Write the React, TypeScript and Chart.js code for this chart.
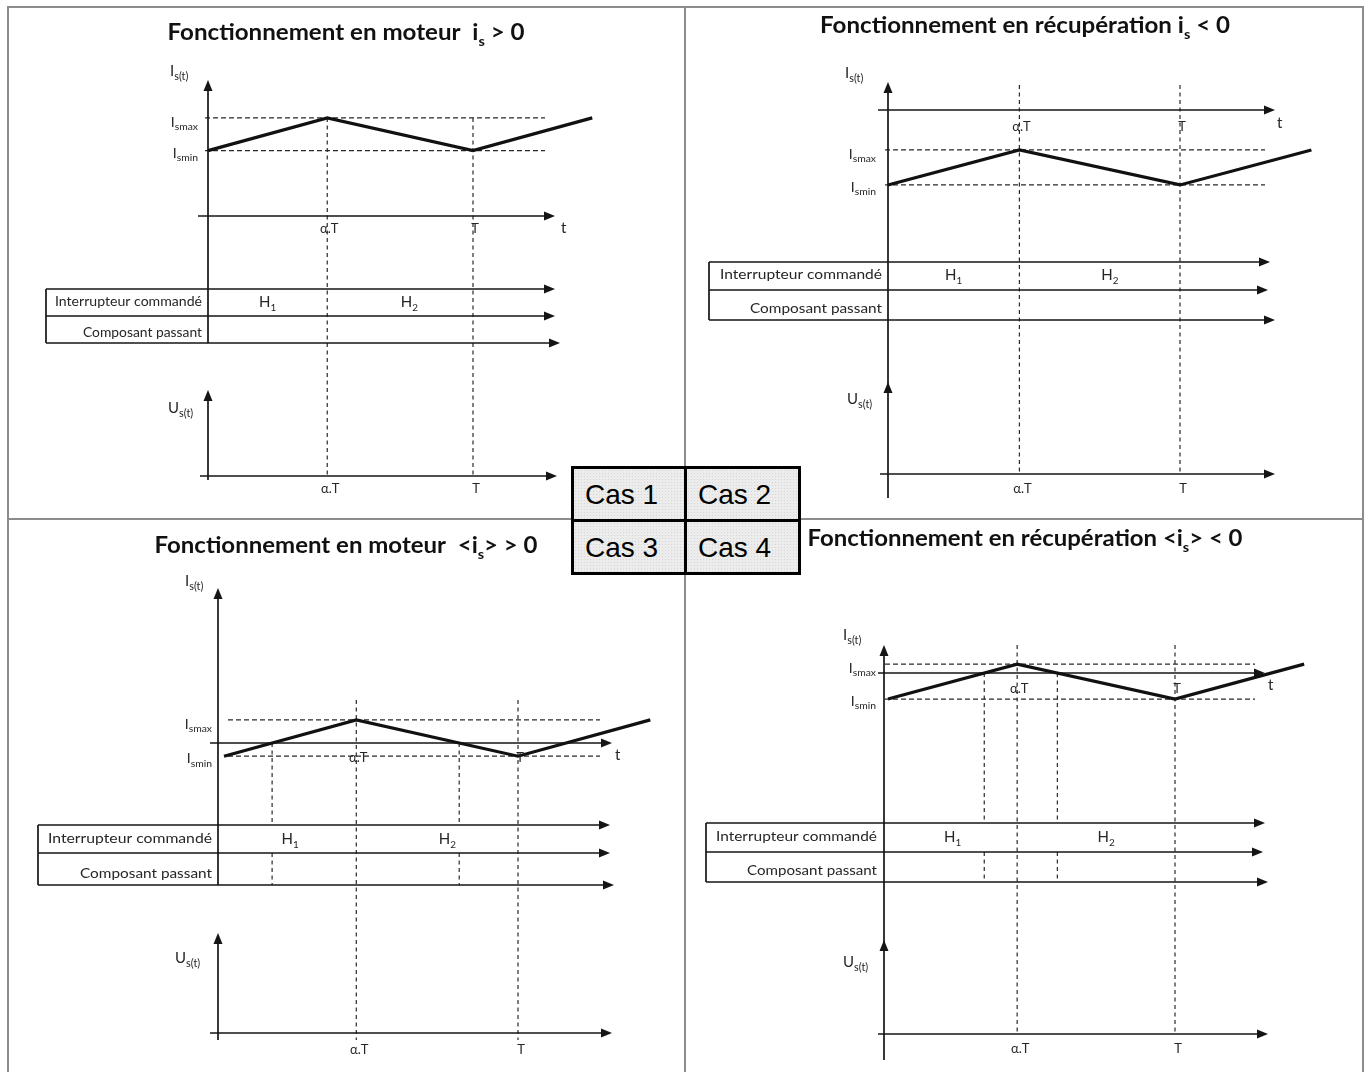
import React, { useEffect, useRef } from "react";
import { Chart, registerables } from "chart.js";

Chart.register(...registerables);

// ---------- DATA ----------
// time instants, in units of the period T (α ≈ 0.45)
const TIMES = [0, 0.45, 1, 1.45];
// current waveforms i_s(t) for each case (arbitrary units)
const CURRENT_CAS1 = [2.0, 3.0, 2.0, 3.0];
const CURRENT_CAS2 = [-2.25, -1.2, -2.25, -1.2];
const CURRENT_CAS3 = [-0.4, 0.7, -0.4, 0.7];
const CURRENT_CAS4 = [-0.79, 0.27, -0.79, 0.27];
const SERIES = [CURRENT_CAS1, CURRENT_CAS2, CURRENT_CAS3, CURRENT_CAS4];

// time axis tick marks and labels
const TICK_TIMES = [0.45, 1];
const TICK_LABELS = ["α.T", "T"];
// switch labels in the "Interrupteur commandé" row
const SWITCH_TIMES = [0.225, 0.76];
const SWITCH_LABELS = ["H_{1}", "H_{2}"];
const ROW_LABELS = ["Interrupteur commandé", "Composant passant"];
const CASE_LABELS = ["Cas 1", "Cas 2", "Cas 3", "Cas 4"];
const TITLES = [
  "Fonctionnement en moteur  i_{s} > 0",
  "Fonctionnement en récupération i_{s} < 0",
  "Fonctionnement en moteur  <i_{s}> > 0",
  "Fonctionnement en récupération <i_{s}> < 0",
];
const AXIS_LABELS = { current: "I_{s(t)}", voltage: "U_{s(t)}", max: "I_{smax}", min: "I_{smin}", time: "t" };

// ---------- LAYOUT (page pixels) ----------
const W = 1369;
const H = 1072;
const PANELS = [
  {
    x0: 208, tPx: 265, y0: 216, k: 32.7, axisX: 208, iTop: 80, iBottom: 343, continuous: false,
    tAxis: { left: 198, right: 555 }, tLabel: { x: 561, y: 233 }, tickLabelY: 233,
    dash: { left: 205, right: 545 }, vDash: { top: null as number | null, bottom: 478 }, crossings: false,
    table: { left: 46, rows: [289, 316, 343], tips: [555, 555, 560], textRight: 202, labelY: [306, 337], textW: [147, 119], hY: 307 },
    u: { arrowY: 390, bottom: 480, y: 476, left: 200, right: 557, labelX: 168, labelY: 413 },
    bottomTickY: 493, iLabel: { x: 170, y: 76 }, limRight: 198, title: { x: 346, y: 40, w: 357 },
  },
  {
    x0: 888, tPx: 292, y0: 110, k: 33.3, axisX: 888, iTop: 82, iBottom: 498, continuous: true,
    tAxis: { left: 878, right: 1275 }, tLabel: { x: 1277, y: 128 }, tickLabelY: 131,
    dash: { left: 885, right: 1265 }, vDash: { top: 85 as number | null, bottom: 473 }, crossings: false,
    table: { left: 709, rows: [262, 290, 320], tips: [1270, 1268, 1275], textRight: 882, labelY: [279, 313], textW: [162, 132], hY: 280 },
    u: { arrowY: 382, bottom: 498, y: 474, left: 880, right: 1275, labelX: 847, labelY: 404 },
    bottomTickY: 493, iLabel: { x: 845, y: 78 }, limRight: 876, title: { x: 1025, y: 33, w: 410 },
  },
  {
    x0: 224, tPx: 294, y0: 743, k: 33, axisX: 218, iTop: 588, iBottom: 885, continuous: false,
    tAxis: { left: 210, right: 612 }, tLabel: { x: 615, y: 760 }, tickLabelY: 762,
    dash: { left: 228, right: 600 }, vDash: { top: 700 as number | null, bottom: 1040 }, crossings: true,
    table: { left: 38, rows: [825, 853, 885], tips: [610, 610, 614], textRight: 212, labelY: [843, 878], textW: [164, 132], hY: 844 },
    u: { arrowY: 933, bottom: 1040, y: 1033, left: 210, right: 612, labelX: 175, labelY: 963 },
    bottomTickY: 1054, iLabel: { x: 185, y: 586 }, limRight: 212, title: { x: 346, y: 553, w: 383 },
  },
  {
    x0: 888, tPx: 287, y0: 673, k: 33, axisX: 884, iTop: 645, iBottom: 1060, continuous: true,
    tAxis: { left: 878, right: 1265 }, tLabel: { x: 1268, y: 690 }, tickLabelY: 693,
    dash: { left: 885, right: 1255 }, vDash: { top: 645 as number | null, bottom: 1035 }, crossings: true,
    table: { left: 706, rows: [823, 852, 882], tips: [1265, 1263, 1268], textRight: 877, labelY: [841, 875], textW: [161, 130], hY: 842 },
    u: { arrowY: 940, bottom: 1060, y: 1034, left: 878, right: 1268, labelX: 843, labelY: 967 },
    bottomTickY: 1053, iLabel: { x: 843, y: 640 }, limRight: 876, title: { x: 1025, y: 546, w: 435 },
  },
];

const FONT = 'Lato, "Open Sans", "DejaVu Sans", sans-serif';
const INK = "#151515";
const TEXT = "#262626";

function parseRich(s: string) {
  const parts: { t: string; sub: boolean }[] = [];
  const re = /_\{([^}]*)\}/g;
  let last = 0;
  let m: RegExpExecArray | null;
  while ((m = re.exec(s))) {
    if (m.index > last) parts.push({ t: s.slice(last, m.index), sub: false });
    parts.push({ t: m[1], sub: true });
    last = re.lastIndex;
  }
  if (last < s.length) parts.push({ t: s.slice(last), sub: false });
  return parts;
}

function drawRich(
  ctx: CanvasRenderingContext2D,
  text: string,
  x: number,
  y: number,
  o: { size: number; bold?: boolean; align?: "left" | "center" | "right"; w?: number; color?: string; subScale?: number; subDrop?: number }
) {
  const parts = parseRich(text);
  const ss = o.subScale ?? 0.72;
  const drop = o.subDrop ?? 0.24;
  const fontFor = (sub: boolean) => `${o.bold ? "700 " : ""}${sub ? o.size * ss : o.size}px ${FONT}`;
  const widths: number[] = [];
  let total = 0;
  for (const p of parts) {
    ctx.font = fontFor(p.sub);
    const w = ctx.measureText(p.t).width;
    widths.push(w);
    total += w;
  }
  const sx = o.w ? o.w / total : 1;
  const dw = total * sx;
  const align = o.align ?? "left";
  const x0 = align === "center" ? x - dw / 2 : align === "right" ? x - dw : x;
  ctx.save();
  ctx.translate(x0, y);
  ctx.scale(sx, 1);
  ctx.fillStyle = o.color ?? TEXT;
  ctx.textAlign = "left";
  ctx.textBaseline = "alphabetic";
  let cx = 0;
  parts.forEach((p, i) => {
    ctx.font = fontFor(p.sub);
    ctx.fillText(p.t, cx, p.sub ? o.size * drop : 0);
    cx += widths[i];
  });
  ctx.restore();
}

function line(ctx: CanvasRenderingContext2D, x1: number, y1: number, x2: number, y2: number) {
  ctx.beginPath();
  ctx.moveTo(x1, y1);
  ctx.lineTo(x2, y2);
  ctx.stroke();
}

function head(ctx: CanvasRenderingContext2D, x1: number, y1: number, x2: number, y2: number) {
  const a = Math.atan2(y2 - y1, x2 - x1);
  const L = 11, hw = 4.5;
  ctx.beginPath();
  ctx.moveTo(x2, y2);
  ctx.lineTo(x2 - L * Math.cos(a) + hw * Math.sin(a), y2 - L * Math.sin(a) - hw * Math.cos(a));
  ctx.lineTo(x2 - L * Math.cos(a) - hw * Math.sin(a), y2 - L * Math.sin(a) + hw * Math.cos(a));
  ctx.closePath();
  ctx.fill();
}

function arrow(ctx: CanvasRenderingContext2D, x1: number, y1: number, x2: number, y2: number) {
  const a = Math.atan2(y2 - y1, x2 - x1);
  line(ctx, x1, y1, x2 - 6 * Math.cos(a), y2 - 6 * Math.sin(a));
  head(ctx, x1, y1, x2, y2);
}

function crossingTimes(ts: number[], vs: number[]) {
  const out: number[] = [];
  for (let j = 0; j < ts.length - 1; j++) {
    const a = vs[j], b = vs[j + 1];
    if ((a < 0 && b > 0) || (a > 0 && b < 0)) {
      const t = ts[j] + ((0 - a) * (ts[j + 1] - ts[j])) / (b - a);
      if (t < 1) out.push(t);
    }
  }
  return out;
}

const decor = {
  id: "decor",
  beforeDatasetsDraw(chart: any) {
    const ctx: CanvasRenderingContext2D = chart.ctx;
    PANELS.forEach((P, i) => {
      const xs = chart.scales["x" + (i + 1)];
      const ys = chart.scales["y" + (i + 1)];
      const data = SERIES[i];
      const px = (t: number) => xs.getPixelForValue(t);
      const py = (v: number) => ys.getPixelForValue(v);
      const yMaxP = py(Math.max(...data));
      const yMinP = py(Math.min(...data));
      const yZero = py(0);

      ctx.save();
      ctx.strokeStyle = "#2a2a2a";
      ctx.lineWidth = 1.2;
      ctx.setLineDash([5, 3]);
      line(ctx, P.dash.left, yMaxP, P.dash.right, yMaxP);
      line(ctx, P.dash.left, yMinP, P.dash.right, yMinP);
      ctx.setLineDash([4, 3.5]);
      TICK_TIMES.forEach((t) => line(ctx, px(t), P.vDash.top ?? yMaxP, px(t), P.vDash.bottom));
      if (P.crossings) {
        crossingTimes(TIMES, data).forEach((t) => {
          line(ctx, px(t), yZero, px(t), P.table.rows[0]);
          line(ctx, px(t), P.table.rows[1], px(t), P.table.rows[2]);
        });
      }
      ctx.restore();

      ctx.save();
      ctx.strokeStyle = INK;
      ctx.fillStyle = INK;
      ctx.lineWidth = 1.7;
      arrow(ctx, P.axisX, P.iBottom, P.axisX, P.iTop);
      if (P.continuous) {
        head(ctx, P.axisX, P.u.arrowY + 20, P.axisX, P.u.arrowY);
      } else {
        arrow(ctx, P.axisX, P.u.bottom, P.axisX, P.u.arrowY);
      }
      arrow(ctx, P.tAxis.left, yZero, P.tAxis.right, yZero);
      P.table.rows.forEach((r, j) => arrow(ctx, P.table.left, r, P.table.tips[j], r));
      line(ctx, P.table.left, P.table.rows[0], P.table.left, P.table.rows[2]);
      arrow(ctx, P.u.left, P.u.y, P.u.right, P.u.y);
      ctx.restore();
    });
  },
  afterDatasetsDraw(chart: any) {
    const ctx: CanvasRenderingContext2D = chart.ctx;
    PANELS.forEach((P, i) => {
      const xs = chart.scales["x" + (i + 1)];
      const ys = chart.scales["y" + (i + 1)];
      const data = SERIES[i];
      const px = (t: number) => xs.getPixelForValue(t);
      const py = (v: number) => ys.getPixelForValue(v);

      drawRich(ctx, TITLES[i], P.title.x, P.title.y, { size: 22, bold: true, align: "center", w: P.title.w, color: "#111", subScale: 0.6, subDrop: 0.28 });
      drawRich(ctx, AXIS_LABELS.current, P.iLabel.x, P.iLabel.y, { size: 15 });
      drawRich(ctx, AXIS_LABELS.max, P.limRight, py(Math.max(...data)) + 9, { size: 14, align: "right", subScale: 0.74 });
      drawRich(ctx, AXIS_LABELS.min, P.limRight, py(Math.min(...data)) + 7, { size: 14, align: "right", subScale: 0.74 });
      drawRich(ctx, AXIS_LABELS.time, P.tLabel.x, P.tLabel.y, { size: 15 });
      TICK_TIMES.forEach((t, j) => {
        drawRich(ctx, TICK_LABELS[j], px(t) + 2, P.tickLabelY, { size: 13, align: "center" });
        drawRich(ctx, TICK_LABELS[j], px(t) + 3, P.bottomTickY, { size: 13, align: "center" });
      });
      ROW_LABELS.forEach((r, j) => {
        drawRich(ctx, r, P.table.textRight, P.table.labelY[j], { size: 14, align: "right", w: P.table.textW[j] });
      });
      SWITCH_TIMES.forEach((t, j) => {
        drawRich(ctx, SWITCH_LABELS[j], px(t), P.table.hY, { size: 15, align: "center", subScale: 0.66 });
      });
      drawRich(ctx, AXIS_LABELS.voltage, P.u.labelX, P.u.labelY, { size: 15 });
    });
  },
};

function buildScales() {
  const scales: any = {};
  PANELS.forEach((P, i) => {
    scales["x" + (i + 1)] = {
      type: "linear", axis: "x", position: "bottom", display: false,
      min: (0 - P.x0) / P.tPx, max: (W - P.x0) / P.tPx,
    };
    scales["y" + (i + 1)] = {
      type: "linear", axis: "y", position: "left", display: false,
      min: (P.y0 - H) / P.k, max: P.y0 / P.k,
    };
  });
  return scales;
}

export default function App() {
  const ref = useRef<HTMLCanvasElement | null>(null);

  useEffect(() => {
    if (!ref.current) return;
    const chart = new Chart(ref.current, {
      type: "line",
      data: {
        datasets: SERIES.map((s, i) => ({
          label: CASE_LABELS[i],
          data: TIMES.map((t, j) => ({ x: t, y: s[j] })),
          xAxisID: "x" + (i + 1),
          yAxisID: "y" + (i + 1),
          borderColor: "#111",
          borderWidth: 3.2,
          pointRadius: 0,
          tension: 0,
          fill: false,
          borderJoinStyle: "miter" as const,
        })),
      },
      options: {
        responsive: false,
        maintainAspectRatio: false,
        animation: false,
        devicePixelRatio: 1,
        events: [],
        layout: { padding: 0 },
        plugins: { legend: { display: false }, tooltip: { enabled: false }, title: { display: false } },
        scales: buildScales(),
      },
      plugins: [decor],
    } as any);
    return () => chart.destroy();
  }, []);

  const frame = "#8c8c8c";
  const cellBase: React.CSSProperties = {
    position: "absolute",
    boxSizing: "border-box",
    border: "3px solid #000",
    background: "#ececec",
    backgroundImage: "radial-gradient(#d6d6d6 0.7px, transparent 0.8px)",
    backgroundSize: "3px 3px",
    display: "flex",
    alignItems: "center",
    justifyContent: "flex-start",
    paddingLeft: 11,
    paddingTop: 2,
    fontFamily: '"Liberation Sans", Arial, sans-serif',
    fontSize: 28,
    color: "#000",
  };
  const cells = [
    { left: 571, top: 466, width: 116, height: 56 },
    { left: 684, top: 466, width: 117, height: 56 },
    { left: 571, top: 519, width: 116, height: 56 },
    { left: 684, top: 519, width: 117, height: 56 },
  ];

  return (
    <div style={{ position: "fixed", left: 0, top: 0, width: W, height: H, background: "#fff", overflow: "hidden" }}>
      <div style={{ position: "absolute", left: 7, top: 6, width: 2, height: H, background: frame }} />
      <div style={{ position: "absolute", left: 7, top: 6, width: 1357, height: 2, background: frame }} />
      <div style={{ position: "absolute", left: 1362, top: 6, width: 2, height: H, background: frame }} />
      <div style={{ position: "absolute", left: 684, top: 6, width: 2, height: H, background: frame }} />
      <div style={{ position: "absolute", left: 7, top: 518, width: 1357, height: 2, background: frame }} />
      <canvas ref={ref} width={W} height={H} style={{ position: "absolute", left: 0, top: 0, width: W, height: H }} />
      {CASE_LABELS.map((c, i) => (
        <div key={c} style={{ ...cellBase, ...cells[i] }}>
          {c}
        </div>
      ))}
    </div>
  );
}
